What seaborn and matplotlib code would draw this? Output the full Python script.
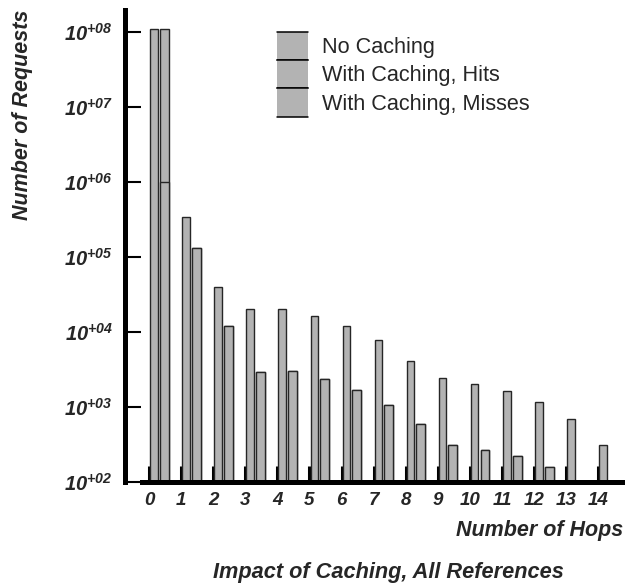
import numpy as np
import pandas as pd
import matplotlib
matplotlib.use("Agg")
import matplotlib.pyplot as plt
import seaborn as sns
from matplotlib.legend_handler import HandlerBase
from matplotlib.patches import Rectangle, Patch
from matplotlib.lines import Line2D
from matplotlib.ticker import FixedLocator, NullLocator, FuncFormatter

# values (log scale)
hops = list(range(15))
no_caching = [1.1e8, 3.4e5, 4.0e4, 2.05e4, 2.0e4, 1.62e4, 1.2e4, 7.7e3,
              4.1e3, 2.45e3, 2.04e3, 1.62e3, 1.18e3, 7.0e2, 3.15e2]
caching_hops = list(range(13))
caching_misses = [1.0e6, 1.32e5, 1.19e4, 2.9e3, 3.05e3, 2.36e3, 1.7e3, 1.07e3,
                  6.0e2, 3.15e2, 2.65e2, 2.22e2, 1.6e2]
hit_hops = [0]
caching_hits = [1.09e8]
series_labels = ["No Caching", "With Caching, Hits", "With Caching, Misses"]
decades = [1e2, 1e3, 1e4, 1e5, 1e6, 1e7, 1e8]

GRAY = "#b3b3b3"
EDGE = "#262626"

sns.set_theme(style="white")
plt.rcParams["font.family"] = ["Liberation Sans", "DejaVu Sans"]
plt.rcParams["mathtext.fontset"] = "custom"
for k in ("rm", "it", "bf", "sf"):
    plt.rcParams["mathtext." + k] = "Liberation Sans:italic:bold"

nc = pd.DataFrame({"x": np.array(hops) + 0.15, "requests": no_caching})
total = list(caching_misses)
for h, v in zip(hit_hops, caching_hits):
    total[caching_hops.index(h)] += v
wc_total = pd.DataFrame({"x": np.array(caching_hops) + 0.47, "requests": total})
wc_miss = pd.DataFrame({"x": np.array(caching_hops) + 0.47, "requests": caching_misses})

fig = plt.figure(figsize=(6.25, 5.86), dpi=100)
ax = fig.add_axes([0.2272, 0.1775, 0.7696, 0.8055])
ax.set_yscale("log")

bar_kw = dict(native_scale=True, color=GRAY, edgecolor=EDGE, linewidth=1,
              saturation=1, errorbar=None, ax=ax)
sns.barplot(data=nc, x="x", y="requests", width=0.23, **bar_kw)
# with caching: full stack (hits + misses), then the misses part on top of it
sns.barplot(data=wc_total, x="x", y="requests", width=0.28, **bar_kw)
sns.barplot(data=wc_miss, x="x", y="requests", width=0.28, **bar_kw)

ax.set_ylim(1e2, 10 ** 8.293)
ax.set_xlim(-0.218, 14.77)

ax.yaxis.set_major_locator(FixedLocator(decades))
ax.yaxis.set_minor_locator(NullLocator())
ax.yaxis.set_major_formatter(FuncFormatter(
    lambda v, p: r"$10^{+%02d}$" % int(round(np.log10(v)))))
ax.xaxis.set_major_locator(FixedLocator(hops))
ax.xaxis.set_major_formatter(FuncFormatter(lambda v, p: "%d" % v))

sns.despine(ax=ax, offset=dict(left=12, bottom=0))
for side in ("left", "bottom"):
    ax.spines[side].set_linewidth(3.6)
    ax.spines[side].set_color("black")

ax.tick_params(axis="y", direction="in", length=11.3, width=1.5, color="black",
               labelsize=14.5, pad=9, left=True)
ax.tick_params(axis="x", direction="in", length=11.5, width=2.2, color="black",
               labelsize=13.5, pad=7, bottom=True)
for lab in ax.get_xticklabels():
    lab.set_fontweight("bold")
    lab.set_fontstyle("italic")

ax.set_xlabel("Number of Hops", loc="right", fontsize=15.5, fontweight="bold",
              fontstyle="italic", labelpad=8)
ax.set_ylabel("Number of Requests", fontsize=15.5, fontweight="bold",
              fontstyle="italic")
ax.yaxis.set_label_coords(-0.2256, 0.7775)

fig.text(388 / 625, 0.0137, "Impact of Caching, All References", ha="center",
         va="baseline", fontsize=15.7, fontweight="bold", fontstyle="italic")


class RowBox(HandlerBase):
    def create_artists(self, legend, orig_handle, xdescent, ydescent, width,
                       height, fontsize, trans):
        x0, y0 = -xdescent, -ydescent
        box = Rectangle((x0, y0), width, height, facecolor=orig_handle.get_facecolor(),
                        edgecolor="none", transform=trans)
        top = Line2D([x0, x0 + width], [y0 + height] * 2, color="black", lw=1.1,
                     transform=trans)
        bot = Line2D([x0, x0 + width], [y0] * 2, color="black", lw=1.1,
                     transform=trans)
        return [box, top, bot]


handles = [Patch(facecolor=GRAY) for _ in series_labels]
ax.legend(handles, series_labels, handler_map={Patch: RowBox()},
          loc="upper left", bbox_to_anchor=(277 / 625, 1 - 32 / 586),
          bbox_transform=fig.transFigure, frameon=False, fontsize=15.6,
          handlelength=1.43, handleheight=1.625, handletextpad=0.64,
          labelspacing=0, borderpad=0, borderaxespad=0)

fig.savefig("out.png", dpi=100)
